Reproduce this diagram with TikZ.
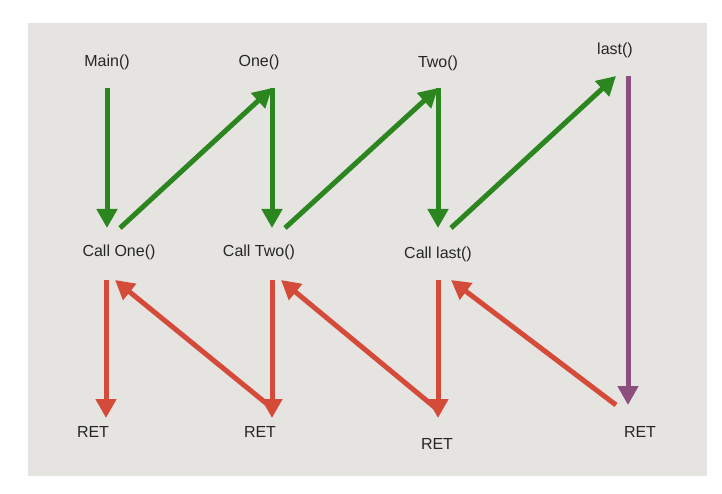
\documentclass[tikz,border=0pt]{standalone}
\usepackage{fontspec}
\setmainfont{Liberation Sans}
\usetikzlibrary{arrows.meta, positioning}

\definecolor{callgreen}{HTML}{2C8620}
\definecolor{retred}{HTML}{D44C39}
\definecolor{lastpurple}{HTML}{8C4E7E}
\definecolor{panel}{HTML}{E6E4E1}

\begin{document}
\begin{tikzpicture}[x=1pt, y=-1pt,
	fn/.style={text=black!85, font=\fontsize{16}{19}\selectfont, inner sep=0pt},
	arr/.style={line width=5pt, -{Triangle[width=20pt, length=19pt]}},
	call/.style={arr, color=callgreen},
	ret/.style={arr, color=retred},
	back/.style={arr, color=lastpurple}]
	\fill[white] (0,0) rectangle (722,494);
	\useasboundingbox (0,0) rectangle (722,494);
	\fill[panel] (28,23) rectangle (707,476);

	\node[fn] (main) at (107,62) {Main()};
	\node[fn] (one) at (259,62) {One()};
	\node[fn] (two) at (438,63) {Two()};
	\node[fn] (last) at (615,50) {last()};
	\node[fn] (callone) at (119,252) {Call One()};
	\node[fn] (calltwo) at (259,252) {Call Two()};
	\node[fn] (calllast) at (438,254) {Call last()};
	\node[fn] (ret1) at (93,432) {RET};
	\node[fn] (ret2) at (260,432) {RET};
	\node[fn] (ret3) at (437,444) {RET};
	\node[fn] (ret4) at (640,432) {RET};

	% ends of the arrows
	\coordinate (a0) at (107,88);
	\coordinate (a1) at (272,88);
	\coordinate (a2) at (438,88);
	\coordinate (a3) at (616,76);
	\coordinate (b0) at (107,228);
	\coordinate (b1) at (272,228);
	\coordinate (b2) at (438,228);
	\coordinate (d0) at (106,280);
	\coordinate (d1) at (272,280);
	\coordinate (d2) at (438,280);
	\coordinate (e0) at (106,418);
	\coordinate (e1) at (272,418);
	\coordinate (e2) at (438,418);
	\coordinate (e3) at (628,405);

	% calls
	\draw[call] (a0) -- (b0);
	\draw[call] ([xshift=13pt]b0) -- (a1);
	\draw[call] (a1) -- (b1);
	\draw[call] ([xshift=13pt]b1) -- (a2);
	\draw[call] (a2) -- (b2);
	\draw[call] ([xshift=13pt]b2) -- (a3);
	\draw[back] ([xshift=12pt]a3) -- (e3);

	% returns
	\draw[ret] (d0) -- (e0);
	\draw[ret] ([yshift=10pt]e1) -- ([xshift=9pt]d0);
	\draw[ret] (d1) -- (e1);
	\draw[ret] ([yshift=8pt]e2) -- ([xshift=9pt]d1);
	\draw[ret] (d2) -- (e2);
	\draw[ret] ([xshift=-12pt]e3) -- ([xshift=13pt]d2);
\end{tikzpicture}
\end{document}
